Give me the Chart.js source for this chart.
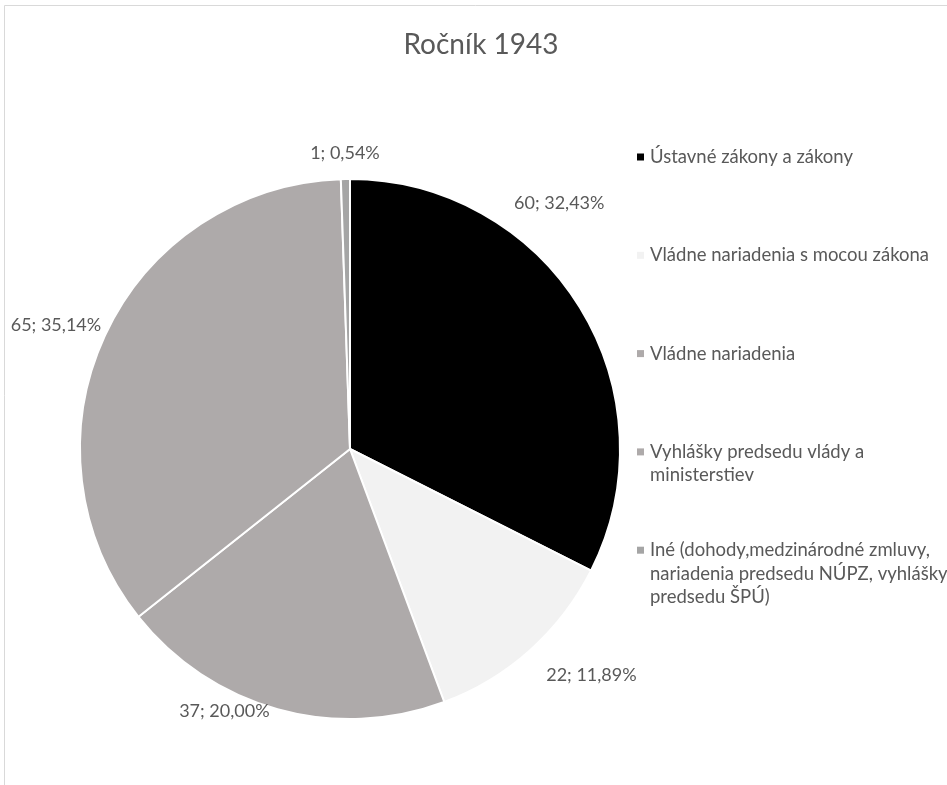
<!DOCTYPE html>
<html>
<head>
<meta charset="utf-8">
<script src="https://cdn.jsdelivr.net/npm/chart.js@4.4.1/dist/chart.umd.min.js"></script>
<style>
  html, body { margin: 0; padding: 0; background: #fff; }
  canvas { display: block; }
</style>
</head>
<body>
<canvas id="pieChart" width="947" height="785"></canvas>
<script>
const title = 'Ročník 1943';
const categories = [
  ['Ústavné zákony a zákony'],
  ['Vládne nariadenia s mocou zákona'],
  ['Vládne nariadenia'],
  ['Vyhlášky predsedu vlády a', 'ministerstiev'],
  ['Iné (dohody,medzinárodné zmluvy,', 'nariadenia predsedu NÚPZ, vyhlášky', 'predsedu ŠPÚ)'],
];
const counts = [60, 22, 37, 65, 1];
const sliceColors = ['#000000', '#f2f2f2', '#aeaaaa', '#aeaaaa', '#a5a5a5'];

const TEXT_COLOR = '#595959';
const FONT = 'Lato, "Open Sans", sans-serif';

const fmtLabel = (v, total) => v + '; ' + (v / total * 100).toFixed(2).replace('.', ',') + '%';

// title, frame, data labels and legend drawn by hand to follow the Excel layout
const excelLook = {
  id: 'excelLook',
  beforeDraw(chart) {
    const ctx = chart.ctx;
    ctx.save();
    ctx.strokeStyle = '#d9d9d9';
    ctx.lineWidth = 1;
    ctx.beginPath();
    ctx.moveTo(4.5, 785);
    ctx.lineTo(4.5, 5.5);
    ctx.lineTo(947, 5.5);
    ctx.stroke();
    ctx.restore();
  },
  afterDatasetsDraw(chart, args, opts) {
    const ctx = chart.ctx;
    const meta = chart.getDatasetMeta(0);
    const values = chart.data.datasets[0].data;
    const total = values.reduce((a, b) => a + b, 0);
    ctx.save();
    ctx.fillStyle = TEXT_COLOR;

    // title
    ctx.font = '28px ' + FONT;
    ctx.textAlign = 'center';
    ctx.textBaseline = 'middle';
    ctx.fillText(title, opts.titleX, opts.titleY);

    // value labels outside the slices
    ctx.font = '18px ' + FONT;
    meta.data.forEach((arc, i) => {
      const p = arc.getProps(['x', 'y', 'startAngle', 'endAngle', 'outerRadius'], true);
      const [dA, dR] = opts.nudge[i];
      const a = (p.startAngle + p.endAngle) / 2 + dA * Math.PI / 180;
      const r = p.outerRadius + dR;
      ctx.fillText(fmtLabel(values[i], total), p.x + r * Math.cos(a), p.y + r * Math.sin(a));
    });

    // legend
    ctx.font = '18.5px ' + FONT;
    ctx.textAlign = 'left';
    chart.data.labels.forEach((lines, i) => {
      const y0 = opts.legendTop + i * opts.legendStep;
      ctx.fillStyle = sliceColors[i];
      ctx.fillRect(opts.legendX, y0 - 3.5, 7, 7);
      ctx.fillStyle = TEXT_COLOR;
      lines.forEach((line, j) => {
        ctx.fillText(line, opts.legendX + 13, y0 + j * opts.lineHeight);
      });
    });
    ctx.restore();
  }
};

const ctx = document.getElementById('pieChart').getContext('2d');
new Chart(ctx, {
  type: 'pie',
  data: {
    labels: categories,
    datasets: [
      {
        data: counts,
        backgroundColor: sliceColors,
        borderColor: '#ffffff',
        borderWidth: 2,
        hoverOffset: 0,
      },
    ],
  },
  options: {
    responsive: false,
    animation: false,
    layout: {
      padding: { left: 79, right: 326, top: 178, bottom: 65 },
    },
    plugins: {
      legend: { display: false },
      title: { display: false },
      tooltip: { enabled: false },
      excelLook: {
        titleX: 481,
        titleY: 45,
        nudge: [[-18, 53], [-5, 61], [10, 21], [-2, 49], [0, 26]],
        legendX: 637,
        legendTop: 157,
        legendStep: 98.3,
        lineHeight: 23.5,
      },
    },
  },
  plugins: [excelLook],
});
</script>
</body>
</html>
